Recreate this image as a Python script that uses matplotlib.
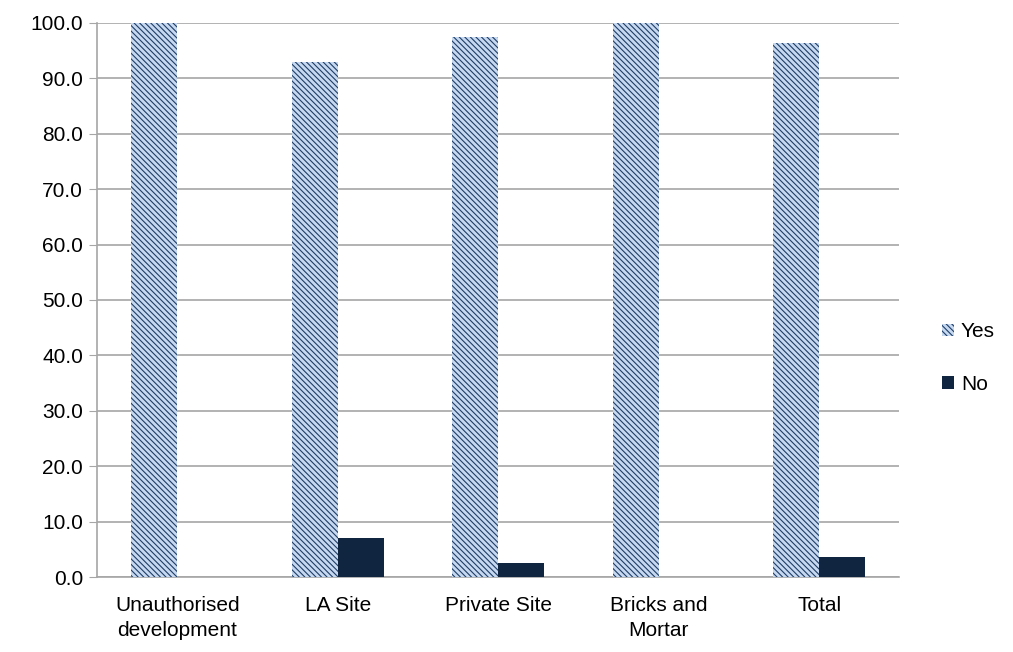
import numpy as np
import matplotlib
matplotlib.use('Agg')
import matplotlib.pyplot as plt

plt.rcParams['font.family'] = ['Liberation Sans', 'DejaVu Sans']
plt.rcParams['hatch.color'] = '#1f3d66'
plt.rcParams['hatch.linewidth'] = 0.8

categories = ['Unauthorised\ndevelopment', 'LA Site', 'Private Site', 'Bricks and\nMortar', 'Total']
yes = [100.0, 93.0, 97.4, 100.0, 96.3]
no = [0.0, 7.0, 2.6, 0.0, 3.7]

fig = plt.figure(figsize=(10.13, 6.52), dpi=100)
ax = fig.add_axes([0.0958, 0.115, 0.792, 0.85])

x = np.arange(len(categories))
w = 0.287
ax.bar(x - w / 2, yes, w, color='#c6d9f1', edgecolor='#1f3d66', linewidth=0,
       hatch='\\' * 6, label='Yes', zorder=3)
ax.bar(x + w / 2, no, w, color='#10253f', linewidth=0, label='No', zorder=3)

ax.set_xlim(-0.5, len(categories) - 0.5)
ax.set_ylim(0, 100)
ax.set_yticks(np.arange(0, 101, 10))
ax.set_yticklabels(['%.1f' % v for v in np.arange(0, 101, 10)], fontsize=15)
ax.set_xticks(x)
ax.set_xticklabels(categories, fontsize=15, va='top', linespacing=1.4)
ax.yaxis.grid(True, color='#a6a6a6', linewidth=1.2, zorder=0)
ax.set_axisbelow(True)
for s in ['top', 'right']:
    ax.spines[s].set_visible(False)
for s in ['left', 'bottom']:
    ax.spines[s].set_color('#a6a6a6')
    ax.spines[s].set_linewidth(1.2)
ax.tick_params(axis='x', length=0, pad=14)
ax.tick_params(axis='y', length=6, color='#a6a6a6', direction='out', pad=4)

ax.legend(loc='center left', bbox_to_anchor=(1.03, 0.395), frameon=False, fontsize=15,
          handlelength=0.55, handleheight=0.55, handletextpad=0.35, labelspacing=1.6)

fig.savefig('out.png', dpi=100)
